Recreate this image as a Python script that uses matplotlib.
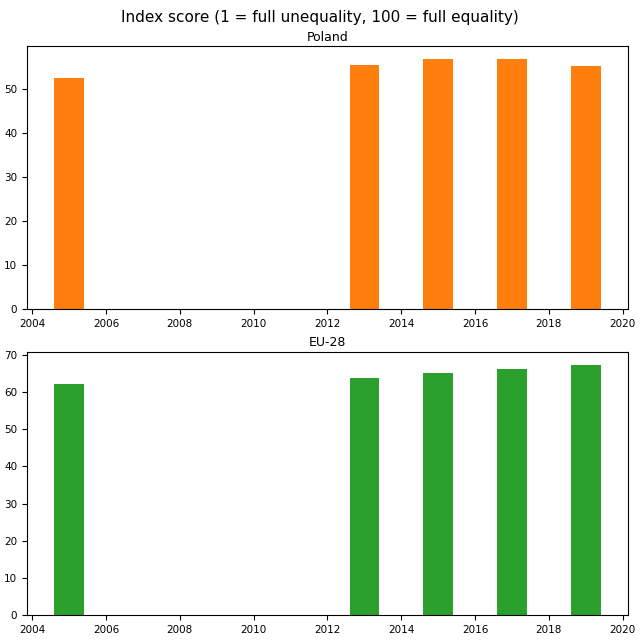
import matplotlib
matplotlib.use('Agg')
import matplotlib.pyplot as plt

years = [2005, 2013, 2015, 2017, 2019]
poland = [52.4, 55.5, 56.9, 56.8, 55.2]
eu28 = [62.1, 63.9, 65.0, 66.2, 67.4]

fig, (ax1, ax2) = plt.subplots(2, 1, figsize=(6.4, 6.4), dpi=100)
fig.suptitle('Index score (1 = full unequality, 100 = full equality)', fontsize=11, y=0.985)

ax1.bar(years, poland, color='C1', width=0.8)
ax1.set_title('Poland', fontsize=9, pad=4)
ax1.tick_params(labelsize=7.5)

ax2.bar(years, eu28, color='C2', width=0.8)
ax2.set_title('EU-28', fontsize=9, pad=4)
ax2.tick_params(labelsize=7.5)

fig.subplots_adjust(left=0.042, right=0.981, top=0.928, bottom=0.039, hspace=0.163)
fig.savefig('out.png')
